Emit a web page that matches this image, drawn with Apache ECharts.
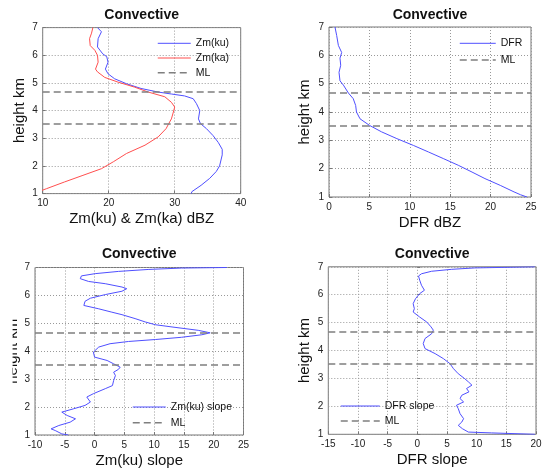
<!DOCTYPE html>
<html>
<head>
<meta charset="utf-8">
<script src="https://cdn.jsdelivr.net/npm/echarts@6/dist/echarts.min.js"></script>
<style>
  html, body { margin: 0; padding: 0; background: #fff; }
  #chart { width: 543px; height: 474px; }
</style>
</head>
<body>
<div id="chart"></div>
<script>
// melting layer heights (km)
const mlHeights = [4.67, 3.52];

// Zm(ku) profile
const zkuH = [7.0,6.85,6.6,6.3,6.05,5.95,5.75,5.5,5.33,5.15,4.97,4.8,4.67,4.6,4.53,4.43,4.25,4.0,3.7,3.53,3.35,3.1,2.85,2.6,2.4,2.0,1.8,1.55,1.3,1.07,1.0];
const zkuV = [18.3,18.9,18.4,18.3,19.1,19.7,19.9,19.5,19.9,20.9,22.7,24.9,27.5,29.5,31.5,32.8,33.3,33.8,33.6,33.9,34.8,35.8,36.6,37.2,37.2,36.8,36.3,35.3,34.0,32.6,32.5];

// Zm(ka) profile
const zkaH = [7.0,6.8,6.6,6.35,6.18,6.0,5.75,5.5,5.4,5.2,5.03,4.85,4.67,4.5,4.3,4.13,3.95,3.7,3.53,3.35,3.05,2.75,2.45,2.15,1.9,1.66,1.42,1.18,1.1];
const zkaV = [17.6,17.4,17.1,17.2,17.9,18.3,18.4,18.0,18.3,19.4,21.4,23.9,26.0,28.5,29.5,30.0,29.8,29.5,29.1,28.7,27.5,25.5,22.7,20.7,18.9,16.1,13.3,10.6,9.7];

// DFR profile
const dfrH = [7.0,6.7,6.35,6.1,5.9,5.65,5.4,5.1,4.95,4.67,4.47,4.23,4.0,3.76,3.53,3.3,3.06,2.82,2.59,2.35,2.12,1.88,1.65,1.41,1.18,1.08,1.0];
const dfrV = [0.74,0.95,1.16,1.57,1.36,1.45,1.24,1.36,1.78,2.4,3.0,3.3,3.4,3.84,5.0,6.5,8.4,10.45,12.3,14.2,16.0,17.7,19.3,21.2,22.9,23.7,24.5];

// Zm(ku) slope
const kuSlopeH = [7.0,6.98,6.93,6.86,6.78,6.7,6.6,6.5,6.42,6.3,6.24,6.15,6.03,5.9,5.79,5.64,5.52,5.4,5.31,5.17,5.05,4.95,4.87,4.75,4.66,4.59,4.5,4.42,4.35,4.27,4.15,3.97,3.79,3.67,3.55,3.43,3.35,3.25,3.13,2.95,2.77,2.66,2.48,2.36,2.18,2.06,1.94,1.82,1.7,1.58,1.46,1.34,1.22,1.16,1.1,1.04,1.0];
const kuSlopeV = [22.2,14.6,9.0,4.0,0.1,-2.2,-2.4,-1.0,1.8,4.6,5.4,4.6,1.8,-0.7,-1.6,-1.8,0.7,2.9,4.6,6.8,8.5,10.2,13.0,17.4,19.4,18.0,14.6,10.2,5.7,2.6,0.7,-0.2,0,2.1,3.2,4.3,4.0,3.2,3.5,3.2,3.0,1.8,-0.2,-1.3,-0.7,-1.6,-3.5,-5.5,-4.6,-3.2,-4.1,-6.0,-7.3,-6.6,-6.9,-5.5,-4.4];

// DFR slope
const dfrSlopeH = [7.0,6.96,6.91,6.84,6.75,6.67,6.52,6.34,6.16,6.04,5.86,5.68,5.5,5.38,5.2,5.02,4.85,4.73,4.6,4.43,4.25,4.07,3.89,3.71,3.53,3.35,3.17,2.99,2.88,2.76,2.64,2.52,2.4,2.28,2.16,2.04,1.92,1.74,1.56,1.44,1.32,1.26,1.2,1.14,1.08,1.05,1.0];
const dfrSlopeV = [19.8,9.7,5.8,2.4,0.7,0.2,0.4,0.7,1.2,0.4,-0.3,-0.7,-0.5,-0.7,0.4,1.6,2.3,2.7,2.4,1.3,1.0,1.3,3.0,4.4,5.5,6.1,6.9,8.0,8.6,9.2,8.3,8.7,7.5,7.2,7.8,6.6,6.9,7.2,7.8,7.5,6.9,7.2,7.6,7.8,8.6,12.5,19.8];

// axis ranges / names per panel
const xMins = [10, 0, -10, -15];
const xMaxs = [40, 25, 25, 20];
const xSteps = [10, 5, 5, 5];
const xNames = ['Zm(ku) & Zm(ka) dBZ', 'DFR dBZ', 'Zm(ku) slope', 'DFR slope'];

var FONT = 'Liberation Sans, Arial, sans-serif';
var BLUE = '#4f4fff';
var RED = '#ff4f4f';
var GRAY = '#7f7f7f';

var grids = [
  { left: 42.7, top: 27.6, width: 198, height: 166 },
  { left: 329, top: 27, width: 202, height: 170 },
  { left: 35, top: 267.5, width: 208.5, height: 167.5 },
  { left: 328.3, top: 266.8, width: 207.7, height: 167.5 }
];
var yGaps = [15, 16.5, 14.5, 16];
var titleY = [15, 15, 253.7, 254];

function zip(vals, hs) {
  return vals.map(function (v, i) { return [v, hs[i]]; });
}

function profile(name, vals, hs, color, idx) {
  return {
    name: name, type: 'line', xAxisIndex: idx, yAxisIndex: idx,
    data: zip(vals, hs), symbol: 'none', showSymbol: false, clip: true,
    lineStyle: { color: color, width: 1 }, itemStyle: { color: color },
    animation: false
  };
}

function mlSeries(idx) {
  var ls = { color: GRAY, width: 1.5, type: [7, 4] };
  return {
    name: 'ML', type: 'line', xAxisIndex: idx, yAxisIndex: idx, data: [],
    symbol: 'none', lineStyle: ls, itemStyle: { color: GRAY }, animation: false,
    markLine: {
      silent: true, symbol: 'none', label: { show: false }, lineStyle: ls,
      animation: false,
      data: mlHeights.map(function (h) { return { yAxis: h }; })
    }
  };
}

var xAxes = [], yAxes = [];
for (var i = 0; i < 4; i++) {
  xAxes.push({
    type: 'value', gridIndex: i, min: xMins[i], max: xMaxs[i], interval: xSteps[i],
    name: xNames[i], nameLocation: 'middle', nameGap: 18, nameMoveOverlap: false,
    nameTextStyle: { fontSize: 15, color: '#111', fontFamily: FONT },
    axisLine: { show: false },
    axisTick: { show: true, inside: true, length: 3, lineStyle: { color: '#777' } },
    axisLabel: { fontSize: 10, color: '#222', margin: 5, fontFamily: FONT },
    splitLine: { show: true, lineStyle: { color: '#999', type: [1, 2], width: 1 } }
  });
  yAxes.push({
    type: 'value', gridIndex: i, min: 1, max: 7, interval: 1,
    name: 'height km', nameLocation: 'middle', nameGap: yGaps[i], nameMoveOverlap: false,
    nameTextStyle: { fontSize: 15, color: '#111', fontFamily: FONT },
    axisLine: { show: false },
    axisTick: { show: true, inside: true, length: 3, lineStyle: { color: '#777' } },
    axisLabel: { fontSize: 10, color: '#222', margin: 5, fontFamily: FONT },
    splitLine: { show: true, lineStyle: { color: '#999', type: [1, 2], width: 1 } }
  });
}

function legend(names, left, top, w, gap) {
  return {
    orient: 'vertical', left: left, top: top, padding: 0,
    itemWidth: w, itemHeight: 10, itemGap: gap, selectedMode: false,
    textStyle: { fontSize: 10.5, color: '#111', lineHeight: 12, fontFamily: FONT },
    data: names.map(function (n) {
      return {
        name: n,
        itemStyle: { opacity: 0 },
        lineStyle: { width: n === 'ML' ? 1.5 : 1 }
      };
    })
  };
}

var titles = grids.map(function (g, i) {
  return {
    type: 'text', x: g.left + g.width / 2, y: titleY[i], z: 50,
    style: {
      text: 'Convective', fill: '#111', font: 'bold 14px ' + FONT,
      textAlign: 'center', textVerticalAlign: 'middle'
    }
  };
});
// the lower-left y label is cut off at the figure edge in the original
titles.push({
  type: 'rect', z: 100, shape: { x: 0, y: 318, width: 12.6, height: 80 },
  style: { fill: '#fff' }
});

var chart = echarts.init(document.getElementById('chart'), null, { renderer: 'canvas' });
chart.setOption({
  animation: false,
  backgroundColor: '#fff',
  grid: grids.map(function (g) {
    return {
      left: g.left, top: g.top, width: g.width, height: g.height,
      show: true, borderColor: '#777', borderWidth: 1,
      containLabel: false, outerBoundsMode: 'none'
    };
  }),
  xAxis: xAxes,
  yAxis: yAxes,
  legend: [
    legend(['Zm(ku)', 'Zm(ka)', 'ML'], 157, 37.3, 33, 2.7),
    legend(['DFR', 'ML'], 459, 37.3, 36, 4.7),
    legend(['Zm(ku) slope', 'ML'], 132, 401, 33, 3.7),
    legend(['DFR slope', 'ML'], 340, 400, 39, 3)
  ],
  graphic: titles,
  series: [
    profile('Zm(ku)', zkuV, zkuH, BLUE, 0),
    profile('Zm(ka)', zkaV, zkaH, RED, 0),
    mlSeries(0),
    profile('DFR', dfrV, dfrH, BLUE, 1),
    mlSeries(1),
    profile('Zm(ku) slope', kuSlopeV, kuSlopeH, BLUE, 2),
    mlSeries(2),
    profile('DFR slope', dfrSlopeV, dfrSlopeH, BLUE, 3),
    mlSeries(3)
  ]
});
</script>
</body>
</html>
